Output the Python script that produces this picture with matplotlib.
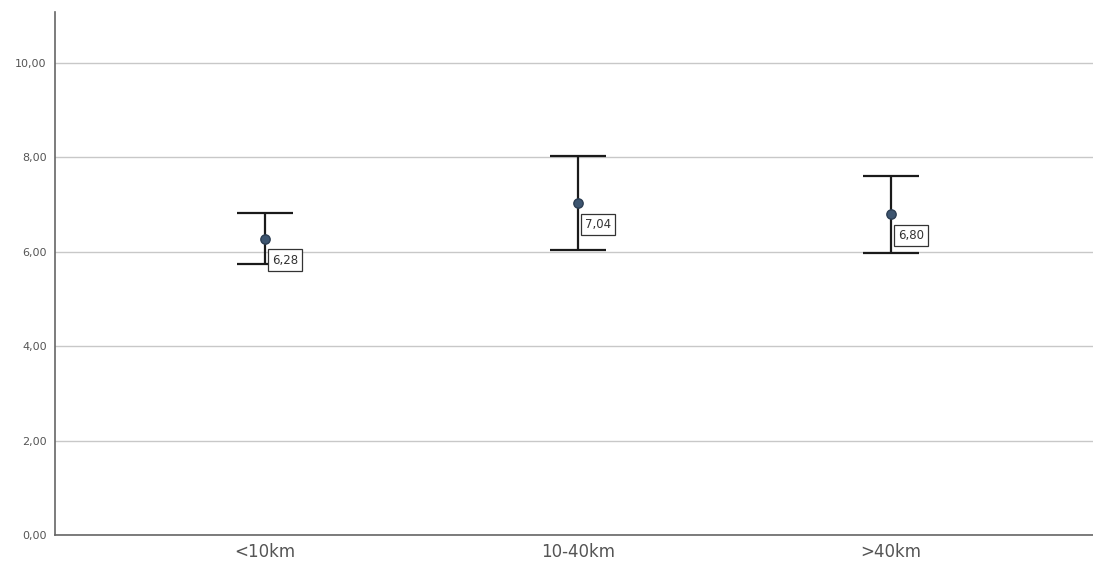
import matplotlib
matplotlib.use("Agg")
import matplotlib.pyplot as plt

categories = ["<10km", "10-40km", ">40km"]
means = [6.28, 7.04, 6.80]
upper = [6.82, 8.03, 7.61]
lower = [5.74, 6.04, 5.97]
yticks = [0, 2, 4, 6, 8, 10]

fig = plt.figure(figsize=(10.93, 5.69), dpi=100)
ax = fig.add_axes([0.0503, 0.0598, 0.9497, 0.919])

x = list(range(len(categories)))
err_lo = [m - l for m, l in zip(means, lower)]
err_hi = [u - m for m, u in zip(means, upper)]

ax.errorbar(x, means, yerr=[err_lo, err_hi], fmt="none", ecolor="#1a1a1a",
            elinewidth=1.6, capsize=20, capthick=1.6, zorder=3)
ax.scatter(x, means, s=45, color="#3d5570", edgecolor="#2b3d52", zorder=4)

for xi, m in zip(x, means):
    ax.annotate(f"{m:.2f}".replace(".", ","), (xi, m), xytext=(5, -18),
                textcoords="offset points", fontsize=8.5, color="#333333",
                bbox=dict(boxstyle="square,pad=0.35", fc="white", ec="#333333", lw=0.9),
                zorder=5)

ax.set_xlim(-0.671, 2.645)
ax.set_ylim(0, 11.08)
ax.set_xticks(x)
ax.set_xticklabels(categories, fontsize=12, color="#555555")
ax.set_yticks(yticks)
ax.set_yticklabels([f"{v:.2f}".replace(".", ",") for v in yticks], fontsize=8, color="#555555")
ax.tick_params(length=0, pad=6)
ax.grid(axis="y", color="#c8c8c8", linewidth=1)
ax.set_axisbelow(True)
for s in ["top", "right"]:
    ax.spines[s].set_visible(False)
for s in ["left", "bottom"]:
    ax.spines[s].set_color("#666666")
    ax.spines[s].set_linewidth(1.2)

fig.savefig("out.png", dpi=100)
